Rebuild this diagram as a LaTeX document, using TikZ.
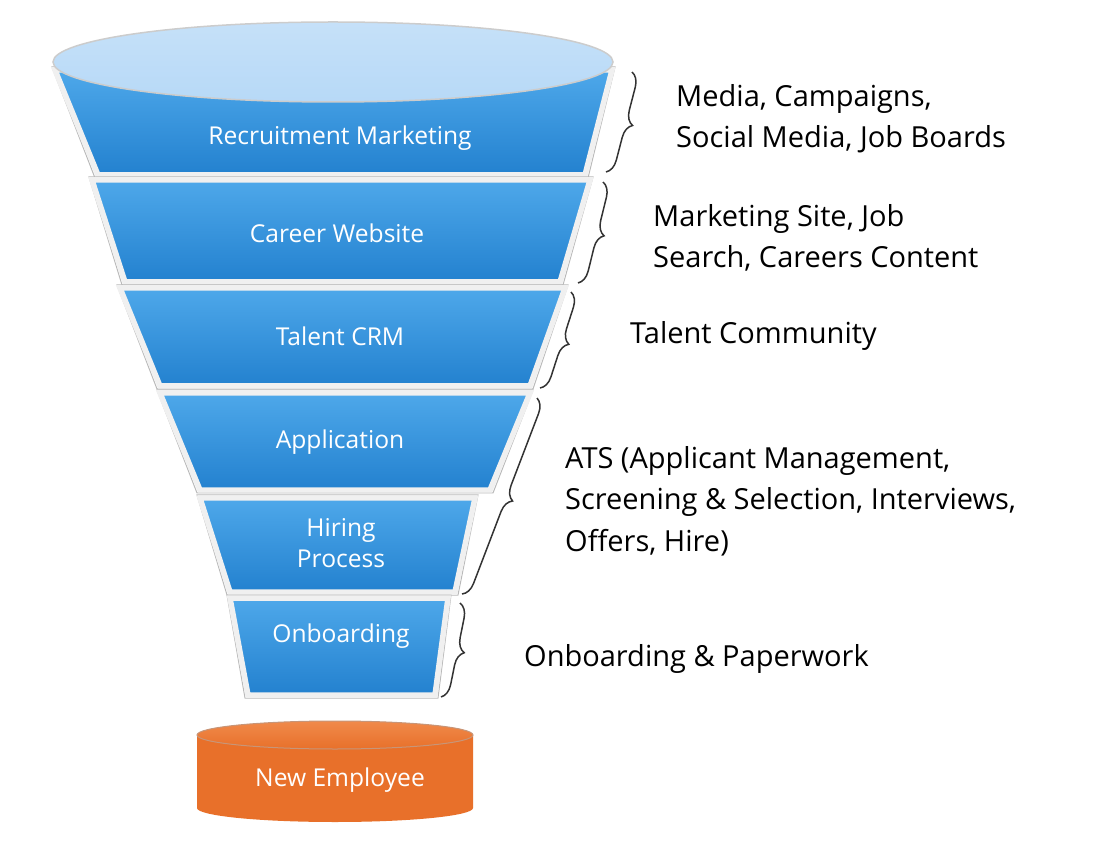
\documentclass[tikz,border=0pt]{standalone}
\usepackage{fontspec}
\setmainfont{Open Sans}
\usetikzlibrary{decorations.pathreplacing}
\definecolor{segtop}{HTML}{4EA8EA}
\definecolor{segbot}{HTML}{2381CF}
\definecolor{rim}{HTML}{B7D9F7}
\definecolor{orng}{HTML}{E8702A}
\definecolor{orngtop}{HTML}{F08A4B}
\tikzset{
  seg/.style={top color=segtop,bottom color=segbot,draw=white!88!gray,line width=0.11cm},
  segout/.style={draw=gray!55,line width=0.02cm},
  flabel/.style={text=white,font=\fontsize{14}{17}\selectfont,align=center},
  side/.style={font=\fontsize{16.5}{23.5}\selectfont,anchor=west,align=left},
  brc/.style={decorate,decoration={brace,amplitude=0.28cm},draw=black!80,line width=0.03cm}
}
\begin{document}
\begin{tikzpicture}[x=0.02cm,y=-0.02cm]
\useasboundingbox (0,0) rectangle (1095,847);
\foreach \tl/\tr/\yt/\bl/\br/\yb in {55/612/70/98/585/175, 92/590/180/125/560/282, 120/565/288/160/530/386, 160/530/393/200/490/490, 200/475/498/230/455/592, 230/448/598/248/435/695}{
  \draw[segout] (\tl-3,\yt-3) -- (\tr+3,\yt-3) -- (\br+3,\yb+3) -- (\bl-3,\yb+3) -- cycle;
  \draw[seg] (\tl,\yt) -- (\tr,\yt) -- (\br,\yb) -- (\bl,\yb) -- cycle;
}
\draw[draw=gray!40,line width=0.03cm,top color=rim!80!white,bottom color=rim] (333,62) ellipse [x radius=280,y radius=40];
\node[flabel] (l1) at (340,138) {Recruitment Marketing};
\node[flabel] (l2) at (337,233) {Career Website};
\node[flabel] (l3) at (340,336) {Talent CRM};
\node[flabel] (l4) at (340,442) {Application};
\node[flabel] (l5) at (341,543) {Hiring\\[1pt]Process};
\node[flabel] (l6) at (341,636) {Onboarding};
\fill[orng] (197,735) -- (197,808) arc[start angle=180,end angle=0,x radius=138,y radius=14] -- (473,735) -- cycle;
\draw[draw=orng!70!black!60,top color=orngtop,bottom color=orng,line width=0.02cm] (335,735) ellipse [x radius=138,y radius=14];
\node[flabel] (ne) at (340,780) {New Employee};
\coordinate (b1a) at (632,72); \coordinate (b1b) at (606,172);
\coordinate (b2a) at (603,182); \coordinate (b2b) at (578,283);
\coordinate (b3a) at (571,292); \coordinate (b3b) at (540,388);
\coordinate (b4a) at (537,398); \coordinate (b4b) at (462,594);
\coordinate (b5a) at (460,603); \coordinate (b5b) at (441,697);
\draw[brc] (b1a) -- (b1b);
\draw[brc] (b2a) -- (b2b);
\draw[brc] (b3a) -- (b3b);
\draw[brc] (b4a) -- (b4b);
\draw[brc] (b5a) -- (b5b);
\node[side] (t1) at (670,119) {Media, Campaigns,\\Social Media, Job Boards};
\node[side] (t2) at (647,238) {Marketing Site, Job\\Search, Careers Content};
\node[side] (t3) at (624,336) {Talent Community};
\node[side] (t4) at (559,501) {ATS (Applicant Management,\\Screening \& Selection, Interviews,\\Offers, Hire)};
\node[side] (t5) at (518,659) {Onboarding \& Paperwork};
\end{tikzpicture}
\end{document}
